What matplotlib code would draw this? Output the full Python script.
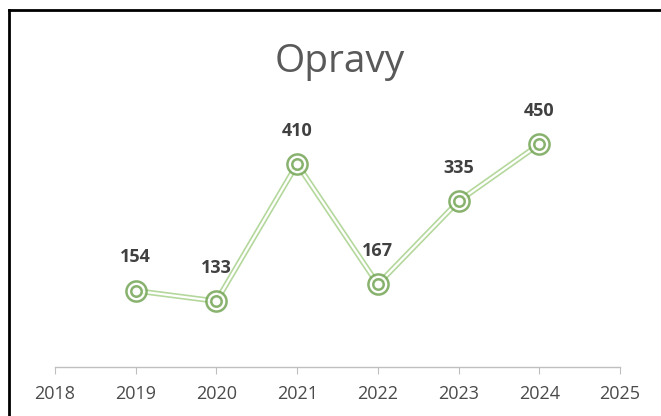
import matplotlib.pyplot as plt
from matplotlib.lines import Line2D

years = [2019, 2020, 2021, 2022, 2023, 2024]
repairs = [154, 133, 410, 167, 335, 450]
tick_years = [2018, 2019, 2020, 2021, 2022, 2023, 2024, 2025]

line_green = '#b4d89c'
marker_green = '#6a9f4a'
text_gray = '#595959'

fig = plt.figure(figsize=(6.61, 4.16), dpi=100)
ax = fig.add_axes([55 / 661, (416 - 367) / 416, (620 - 55) / 661, 250 / 416])

# double line: green wide line with white core
ax.plot(years, repairs, color=line_green, lw=4.0, solid_capstyle='round', zorder=2)
ax.plot(years, repairs, color='white', lw=1.6, solid_capstyle='round', zorder=3)

# double ring markers
ax.plot(years, repairs, linestyle='none', marker='o', ms=14.5, mfc='white',
        mec=marker_green, mew=1.8, alpha=0.8, zorder=4)
ax.plot(years, repairs, linestyle='none', marker='o', ms=7.5, mfc='white',
        mec=marker_green, mew=1.8, alpha=0.8, zorder=5)

for x, y in zip(years, repairs):
    ax.annotate(str(y), (x, y), xytext=(0, 24), textcoords='offset points',
                ha='center', va='center', fontsize=13, fontweight='bold',
                color='#404040', family='Open Sans')

ax.set_xlim(2018, 2025)
ax.set_ylim(0, 505)
ax.set_xticks(tick_years)
ax.set_xticklabels([str(t) for t in tick_years], family='Open Sans', fontsize=13,
                   color='#4a4a4a')
ax.tick_params(axis='x', length=5, color='#bfbfbf', pad=8)
ax.set_yticks([])
for side in ['top', 'right', 'left']:
    ax.spines[side].set_visible(False)
ax.spines['bottom'].set_color('#bfbfbf')
ax.spines['bottom'].set_linewidth(1.0)

fig.text(340 / 661, 1 - 62 / 416, 'Opravy', ha='center', va='center',
         fontsize=28, color=text_gray, family='Open Sans')

# black frame on left and top
fig.add_artist(Line2D([9 / 661, 9 / 661], [0, 1 - 10 / 416], color='black', lw=2.0,
                      transform=fig.transFigure))
fig.add_artist(Line2D([9 / 661, 1], [1 - 10 / 416, 1 - 10 / 416], color='black', lw=2.0,
                      transform=fig.transFigure))

fig.savefig('out.png', dpi=100)
